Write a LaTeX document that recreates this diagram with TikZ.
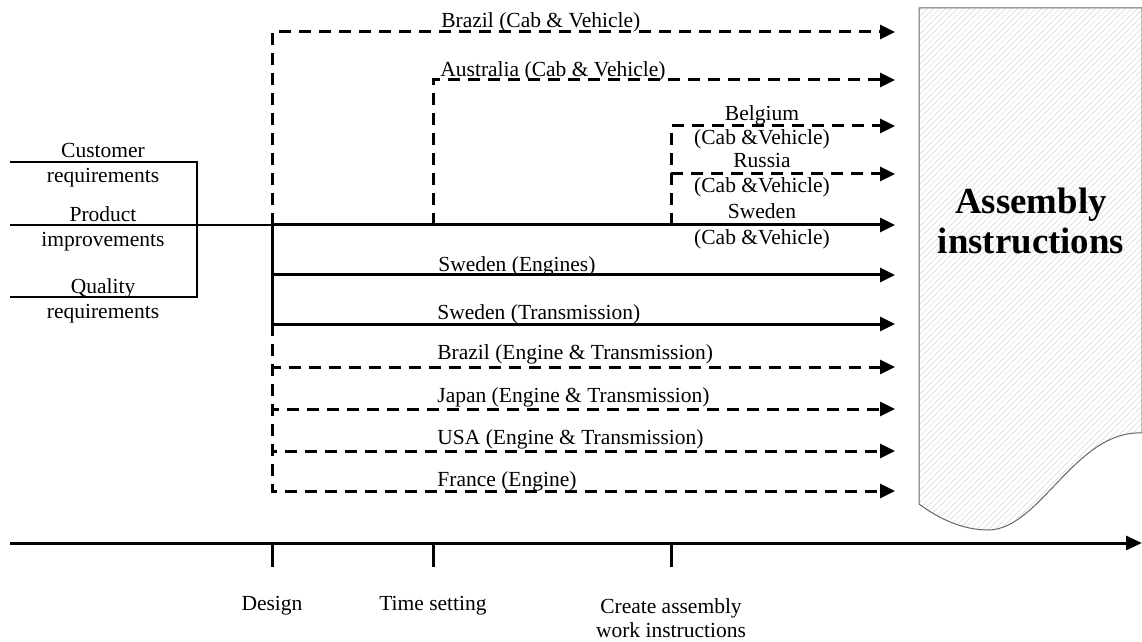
\documentclass[tikz,border=0pt]{standalone}
\usepackage{fontspec}
\setmainfont{Liberation Serif}
\usetikzlibrary{arrows.meta,patterns}
\begin{document}
\begin{tikzpicture}[x=0.5pt,y=-0.5pt,
  tip/.style={-{Triangle[length=7.5pt,width=7pt]}},
  solidflow/.style={line width=1.5pt,tip},
  dashflow/.style={line width=1.5pt,dash pattern=on 6pt off 4pt,tip},
  bracket/.style={line width=0.6pt},
  txt/.style={font=\fontsize{10.75}{12.4}\selectfont,inner sep=0pt},
  lbl/.style={txt,anchor=base west},
  cv/.style={txt,anchor=base},
  stack/.style={txt,align=center,font=\fontsize{10.75}{12.2}\selectfont},
  tick/.style={line width=1.5pt},
  docshape/.style={draw=black!60,line width=0.5pt,pattern=north east lines,pattern color=black!11}
]
\useasboundingbox (0,0) rectangle (1142,642);

% junction points on the design trunk
\coordinate (j0) at (272,225);
\coordinate (jE) at (272,275);
\coordinate (j1) at (272,324);
\coordinate (jA) at (433,225);
\coordinate (jB) at (671,225);
\coordinate (jR) at (671,174);

% arrow ends
\coordinate (eBrC) at (895,32);
\coordinate (eAu)  at (895,80);
\coordinate (eBe)  at (895,126);
\coordinate (eRu)  at (895,174);
\coordinate (eSwC) at (895,225);
\coordinate (eSwE) at (895,275);
\coordinate (eSwT) at (895,324);
\coordinate (eBrE) at (895,367);
\coordinate (eJp)  at (895,409);
\coordinate (eUs)  at (895,451);
\coordinate (eFr)  at (895,491);

% assembly instructions document
\fill[white] (919,8) -- (1142,8) -- (1142,433)
  .. controls (1075,430) and (1040,530) .. (988,530)
  .. controls (960,530) and (935,516) .. (919,504) -- cycle;
\path[docshape] (919,8) -- (1142,8) -- (1142,433)
  .. controls (1075,430) and (1040,530) .. (988,530)
  .. controls (960,530) and (935,516) .. (919,504) -- cycle;
\node[txt,align=center,font=\fontsize{18.4}{20}\selectfont\bfseries] (doc) at (1031,221) {Assembly\\instructions};

% inputs on the left
\coordinate (bL1) at (10,162);
\coordinate (bR1) at (197,162);
\coordinate (bR3) at (197,297);
\coordinate (bL3) at (10,297);
\coordinate (bL2) at (10,225);
\draw[bracket] (bL1) -- (bR1) -- (bR3) -- (bL3);
\draw[bracket] (bL2) -- (j0);
\node[stack] (cust) at (103,165) {Customer\\requirements};
\node[stack] (prod) at (103,229) {Product\\improvements};
\node[stack] (qual) at (103,301) {Quality\\requirements};

% solid flows (Sweden)
\draw[line width=1.5pt] (j0) -- (j1);
\draw[solidflow] (j0) -- (eSwC);
\draw[solidflow] (jE) -- (eSwE);
\draw[solidflow] (j1) -- (eSwT);

% dashed flows, upper
\draw[dashflow] (j0) |- (eBrC);
\draw[dashflow] (jA) |- (eAu);
\draw[dashflow] (jB) |- (eBe);
\draw[dashflow] (jR) -- (eRu);

% dashed flows, lower
\draw[dashflow] (j1) |- (eBrE);
\draw[dashflow] (j1) |- (eJp);
\draw[dashflow] (j1) |- (eUs);
\draw[dashflow] (j1) |- (eFr);

% flow labels
\node[lbl] (tBrC) at (441,28) {Brazil (Cab \& Vehicle)};
\node[lbl] (tAu)  at (440,77) {Australia (Cab \& Vehicle)};
\node[cv] (tBe1) at (762,121) {Belgium};
\node[cv] (tBe2) at (762,145) {(Cab \&Vehicle)};
\node[cv] (tRu1) at (762,168) {Russia};
\node[cv] (tRu2) at (762,193) {(Cab \&Vehicle)};
\node[cv] (tSw1) at (762,219) {Sweden};
\node[cv] (tSw2) at (762,244) {(Cab \&Vehicle)};
\node[lbl] (tSwE) at (438,271) {Sweden (Engines)};
\node[lbl] (tSwT) at (437,320) {Sweden (Transmission)};
\node[lbl] (tBrE) at (437,359) {Brazil (Engine \& Transmission)};
\node[lbl] (tJp)  at (437,402) {Japan (Engine \& Transmission)};
\node[lbl] (tUs)  at (437,444) {USA (Engine \& Transmission)};
\node[lbl] (tFr)  at (437,486) {France (Engine)};

% time axis
\coordinate (axL) at (10,543);
\coordinate (axR) at (1142,543);
\draw[line width=1.5pt,-{Triangle[length=8pt,width=7pt]}] (axL) -- (axR);
\coordinate (k1) at (272,543); \coordinate (k1b) at (272,567);
\coordinate (k2) at (433,543); \coordinate (k2b) at (433,567);
\coordinate (k3) at (671,543); \coordinate (k3b) at (671,567);
\draw[tick] (k1) -- (k1b);
\draw[tick] (k2) -- (k2b);
\draw[tick] (k3) -- (k3b);
\node[stack] (sDes) at (272,606) {Design};
\node[stack] (sTim) at (433,606) {Time setting};
\node[stack] (sCre) at (671,618) {Create assembly\\work instructions};
\end{tikzpicture}
\end{document}
